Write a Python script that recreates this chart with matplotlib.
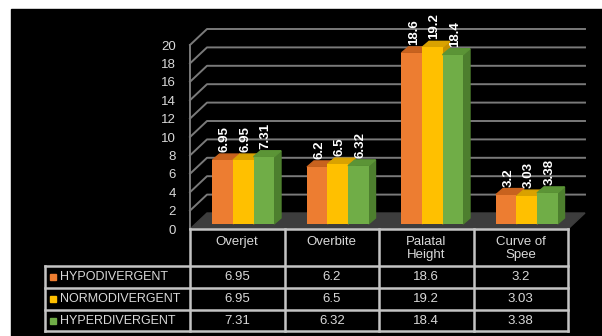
import matplotlib.pyplot as plt
from matplotlib.patches import Rectangle, Polygon
from matplotlib.lines import Line2D
from matplotlib import transforms

plt.rcParams['font.family'] = ['Liberation Sans', 'DejaVu Sans']

categories = ['Overjet', 'Overbite', 'Palatal\nHeight', 'Curve of\nSpee']
groups = ['HYPODIVERGENT', 'NORMODIVERGENT', 'HYPERDIVERGENT']
hypo = [6.95, 6.2, 18.6, 3.2]
normo = [6.95, 6.5, 19.2, 3.03]
hyper = [7.31, 6.32, 18.4, 3.38]
series = [hypo, normo, hyper]
yticks = list(range(0, 21, 2))

front_col = ['#ED7D31', '#FFC000', '#70AD47']
top_col = ['#C8621E', '#D9A200', '#5B9436']
side_col = ['#B0561A', '#C49000', '#4D7F2E']
grid_col = '#7a7a7a'
line_col = '#c4c4c4'
text_col = '#d9d9d9'

W, H = 602, 336
fig = plt.figure(figsize=(W / 100, H / 100), dpi=100, facecolor='white')


def fxy(x, y):
    # pixel position (y from top) -> figure fraction
    return x / W, 1 - y / H


# black panel
fig.add_artist(Rectangle(fxy(11, H), 1, 1 - 9 / H, transform=fig.transFigure,
                         color='black', zorder=0))

left, right, top, bottom = 190, 568, 45, 229
ax = fig.add_axes([left / W, 1 - bottom / H, (right - left) / W, (bottom - top) / H])
ax.set_facecolor('none')
for s in ax.spines.values():
    s.set_visible(False)
ax.set_xlim(-0.5, 3.5)
ax.set_ylim(0, 20)
ax.set_xticks([])
ax.set_yticks(yticks)
ax.tick_params(axis='y', length=0, pad=10, colors=text_col, labelsize=9.5)

# data units per pixel
ux = 4 / (right - left)
uy = 20 / (bottom - top)


def off(x, y, dx, dy):
    return (x + dx * ux, y + dy * uy)


BACK = (17, 16)     # depth of the walls, px
SHIFT = (6, 5)      # bars sit a little behind the front plane
DEPTH = (13, 11)    # back edge of the bars

# floor
ax.add_patch(Polygon([(-0.5, 0), (3.5, 0), off(3.5, 0, *BACK), off(-0.5, 0, *BACK)],
                     closed=True, color='#3d3d3d', clip_on=False, zorder=1))

# gridlines running along the left wall and the back wall
for v in yticks[1:]:
    p0 = (-0.5, v)
    p1 = off(-0.5, v, *BACK)
    p2 = off(3.5, v, *BACK)
    ax.add_line(Line2D([p0[0], p1[0], p2[0]], [p0[1], p1[1], p2[1]],
                       color=grid_col, lw=1.4, clip_on=False, zorder=1))
ax.add_line(Line2D([-0.5, -0.5], [0, 20], color=grid_col, lw=1.4, clip_on=False, zorder=1))

w = 0.217
bar_tr = transforms.offset_copy(ax.transData, fig=fig, x=SHIFT[0], y=SHIFT[1], units='dots')
lab_tr = transforms.offset_copy(ax.transData, fig=fig, x=8, y=13, units='dots')
xs = list(range(len(categories)))
for k, vals in enumerate(series):
    pos = [x + (k - 1) * w for x in xs]
    ax.bar(pos, vals, width=w, color=front_col[k], transform=bar_tr,
           clip_on=False, zorder=4 + 2 * k)
    for x, v in zip(pos, vals):
        x0, x1 = x - w / 2, x + w / 2
        topf = [off(x0, v, *SHIFT), off(x1, v, *SHIFT), off(x1, v, *DEPTH), off(x0, v, *DEPTH)]
        side = [off(x1, 0, *SHIFT), off(x1, v, *SHIFT), off(x1, v, *DEPTH), off(x1, 0, *DEPTH)]
        ax.add_patch(Polygon(side, closed=True, color=side_col[k], clip_on=False, zorder=3 + 2 * k))
        ax.add_patch(Polygon(topf, closed=True, color=top_col[k], clip_on=False, zorder=3 + 2 * k))
        ax.text(x, v, f'{v:g}', transform=lab_tr, rotation=90, ha='center', va='bottom',
                color='white', fontsize=9.5, fontweight='bold', zorder=10, clip_on=False)

# data table under the chart
tr = transforms.blended_transform_factory(ax.transData, fig.transFigure)
row_lines = [266, 288, 310, 331]
col_lines = [190, 284.5, 379, 473.5, 568]


def hline(y, x0, x1):
    fig.add_artist(Line2D([x0 / W, x1 / W], [1 - y / H] * 2, transform=fig.transFigure,
                          color=line_col, lw=1.8))


def vline(x, y0, y1):
    fig.add_artist(Line2D([x / W] * 2, [1 - y0 / H, 1 - y1 / H], transform=fig.transFigure,
                          color=line_col, lw=1.8))


hline(bottom, left, right)
for y in row_lines:
    hline(y, 45, right)
vline(45, row_lines[0], row_lines[-1])
for x in col_lines:
    vline(x, bottom, row_lines[-1])

for i, c in enumerate(categories):
    fig.text(i, 1 - 236 / H, c, transform=tr, ha='center', va='top', color=text_col,
             fontsize=9.5, linespacing=1.1)

for r, (g, vals) in enumerate(zip(groups, series)):
    yc = (row_lines[r] + row_lines[r + 1]) / 2
    fig.add_artist(Rectangle(fxy(50, yc + 3), 6 / W, 6 / H, transform=fig.transFigure,
                             color=front_col[r]))
    fig.text(60 / W, 1 - yc / H, g, ha='left', va='center', color=text_col, fontsize=9)
    for i, v in enumerate(vals):
        fig.text(i, 1 - yc / H, f'{v:g}', transform=tr, ha='center', va='center',
                 color=text_col, fontsize=9.5)

fig.savefig('out.png', dpi=100, facecolor=fig.get_facecolor())
